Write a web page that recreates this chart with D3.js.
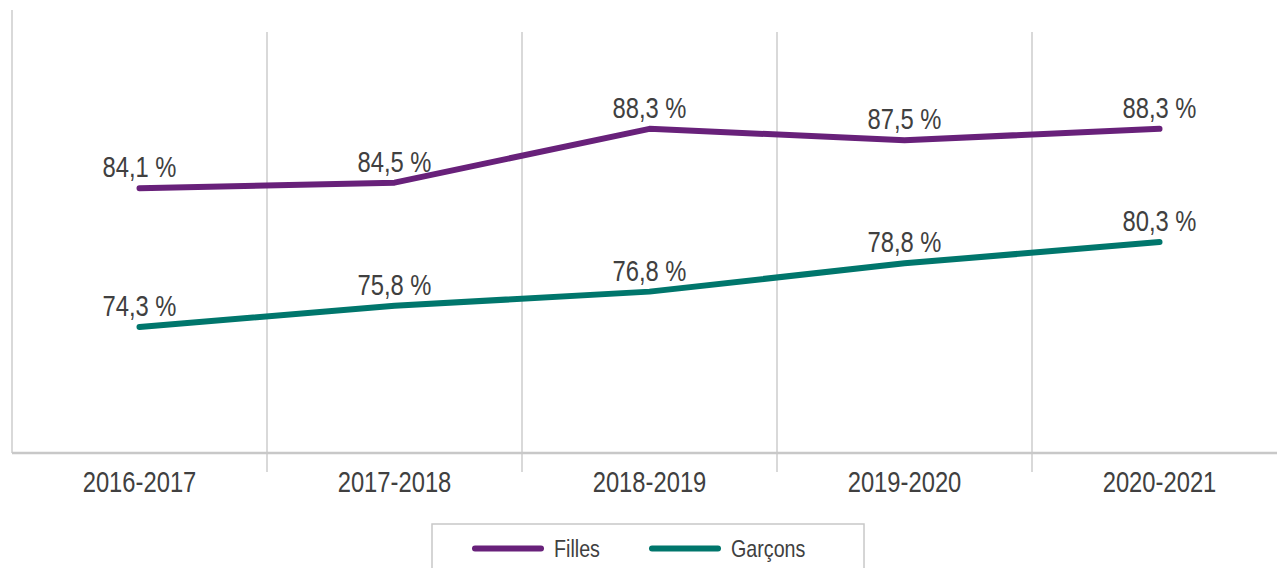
<!DOCTYPE html>
<html>
<head>
<meta charset="utf-8">
<script src="https://cdn.jsdelivr.net/npm/d3@7"></script>
<style>
  body { margin: 0; background: #fff; }
  svg { display: block; }
  text { font-family: "Liberation Sans Narrow", "Arial Narrow", "Liberation Sans", Arial, sans-serif; fill: #404040; }
</style>
</head>
<body>
<svg id="chart" width="1277" height="568"></svg>
<script>
  var years = ["2016-2017", "2017-2018", "2018-2019", "2019-2020", "2020-2021"];
  var filles = [84.1, 84.5, 88.3, 87.5, 88.3];
  var garcons = [74.3, 75.8, 76.8, 78.8, 80.3];
  var seriesNames = ["Filles", "Garçons"];
  var seriesColors = ["#68217a", "#00766c"];

  // no narrow face installed: squeeze the regular one
  var narrow = "scale(0.82,1)";

  var svg = d3.select("#chart");

  var x = d3.scaleBand()
    .domain(years)
    .range([12, 1287]);

  var y = d3.scaleLinear()
    .domain([65.4, 95])
    .range([453, 34]);

  // vertical category separators
  svg.append("g")
    .selectAll("line")
    .data(years.slice(1))
    .enter().append("line")
    .attr("x1", function (d) { return x(d); })
    .attr("x2", function (d) { return x(d); })
    .attr("y1", 32)
    .attr("y2", 472)
    .attr("stroke", "#d9d9d9")
    .attr("stroke-width", 2);

  svg.append("line")
    .attr("x1", 12).attr("x2", 12)
    .attr("y1", 10).attr("y2", 453)
    .attr("stroke", "#d9d9d9")
    .attr("stroke-width", 2);

  // category axis
  var xAxis = svg.append("g")
    .attr("transform", "translate(0,453)")
    .call(d3.axisBottom(x).tickSize(0).tickPadding(18));
  xAxis.select(".domain")
    .attr("d", "M12,0H1277")
    .attr("stroke", "#c8c8c8")
    .attr("stroke-width", 2.5);
  xAxis.selectAll("text")
    .attr("font-size", 29)
    .attr("fill", "#404040")
    .attr("transform", narrow)
    .style("font-family", "'Liberation Sans Narrow', 'Arial Narrow', 'Liberation Sans', Arial, sans-serif");

  var line = d3.line()
    .x(function (d, i) { return x(years[i]) + x.bandwidth() / 2; })
    .y(function (d) { return y(d); });

  var series = [filles, garcons];

  series.forEach(function (values, k) {
    svg.append("path")
      .datum(values)
      .attr("d", line)
      .attr("fill", "none")
      .attr("stroke", seriesColors[k])
      .attr("stroke-width", 6)
      .attr("stroke-linecap", "round")
      .attr("stroke-linejoin", "round");

    svg.append("g")
      .selectAll("g")
      .data(values)
      .enter().append("g")
      .attr("transform", function (d, i) {
        return "translate(" + (x(years[i]) + x.bandwidth() / 2) + "," + (y(d) - 11) + ")";
      })
      .append("text")
      .attr("transform", narrow)
      .attr("text-anchor", "middle")
      .attr("font-size", 29)
      .text(function (d) { return d.toFixed(1).replace(".", ",") + " %"; });
  });

  // legend
  var legend = svg.append("g");
  legend.append("rect")
    .attr("x", 432).attr("y", 524)
    .attr("width", 432).attr("height", 60)
    .attr("fill", "none")
    .attr("stroke", "#c8c8c8")
    .attr("stroke-width", 1.5);

  var legendX = [475, 652];
  seriesNames.forEach(function (name, k) {
    legend.append("line")
      .attr("x1", legendX[k]).attr("x2", legendX[k] + 66)
      .attr("y1", 548.5).attr("y2", 548.5)
      .attr("stroke", seriesColors[k])
      .attr("stroke-width", 6)
      .attr("stroke-linecap", "round");
    legend.append("g")
      .attr("transform", "translate(" + (legendX[k] + 79) + ",557)")
      .append("text")
      .attr("transform", narrow)
      .attr("font-size", 24)
      .text(name);
  });
</script>
</body>
</html>
